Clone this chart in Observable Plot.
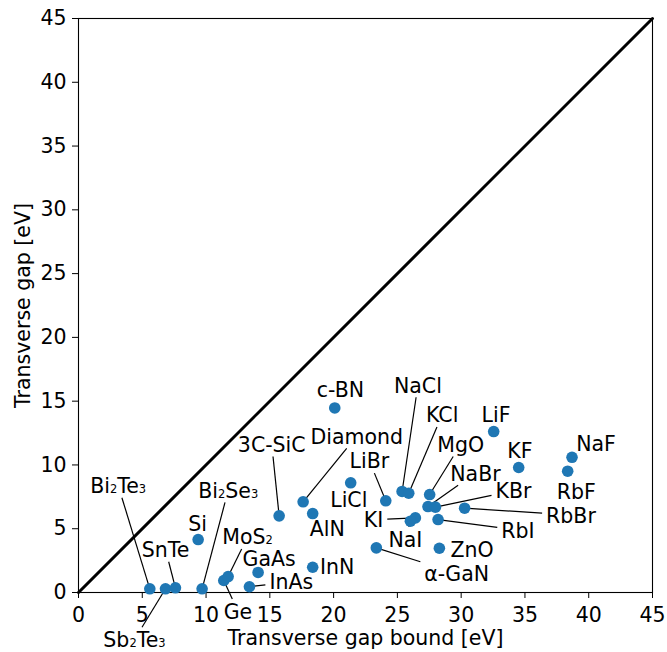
<!DOCTYPE html>
<html>
<head>
<meta charset="utf-8">
<script src="https://cdn.jsdelivr.net/npm/d3@7"></script>
<script src="https://cdn.jsdelivr.net/npm/@observablehq/plot@0.6"></script>
<style>
  html, body { margin: 0; padding: 0; background: #fff; }
  #chart svg { display: block; }
</style>
</head>
<body>
<div id="chart"></div>
<script>
// ---- data ----
const names = ["Bi₂Te₃","Sb₂Te₃","SnTe","Bi₂Se₃","Si","Ge","MoS₂","GaAs","InAs","3C-SiC",
  "Diamond","AlN","InN","c-BN","LiCl","LiBr","NaCl","KCl","MgO","NaBr",
  "KBr","RbBr","KI","NaI","RbI","ZnO","α-GaN","LiF","KF","NaF","RbF"];
const gapBound = [5.59,6.82,7.60,9.69,9.38,11.39,11.73,14.08,13.40,15.73,
  17.61,18.36,18.36,20.09,21.34,24.09,25.37,25.89,27.53,27.40,
  27.98,30.27,26.41,26.02,28.19,28.29,23.35,32.55,34.51,38.69,38.35];
const gap = [0.29,0.29,0.37,0.29,4.15,0.94,1.25,1.57,0.45,6.01,
  7.11,6.19,1.98,14.47,8.60,7.19,7.92,7.78,7.68,6.74,
  6.69,6.61,5.85,5.59,5.72,3.47,3.50,12.62,9.80,10.60,9.51];
// annotation text anchor (data units) and whether a leader line is drawn
const labelX = [3.11,4.39,6.82,11.74,9.34,12.50,13.26,14.95,16.68,15.15,
  21.81,19.50,20.28,20.54,21.19,22.80,26.61,28.51,29.97,31.12,
  34.10,38.61,23.13,25.63,34.45,30.86,29.65,32.73,34.61,40.57,39.02];
const labelY = [8.39,-3.68,3.37,8.02,5.41,-1.47,4.37,2.64,0.84,11.62,
  12.25,5.06,2.01,15.90,7.28,10.32,16.27,13.94,11.62,9.37,
  7.97,6.08,5.71,4.18,4.90,3.36,1.51,13.94,11.13,11.72,7.90];
const leader = [1,1,1,1,0,1,1,0,1,1,
  1,0,0,0,0,1,1,1,1,1,
  1,1,1,1,1,0,1,0,0,0,0];
const diagonal = [0, 45];
const xTicks = [0,5,10,15,20,25,30,35,40,45];
const yTicks = [0,5,10,15,20,25,30,35,40,45];
const xTitle = "Transverse gap bound [eV]";
const yTitle = "Transverse gap [eV]";

// ---- layout ----
const W = 667, H = 652;
const M = {top: 18, right: 15, bottom: 60, left: 78};
const FS = 20.5;
const SUB = 0.56;
const FONT = "DejaVu Sans";
const blue = "#1f77b4";

const xs = Plot.scale({x: {domain: [0, 45], range: [M.left, W - M.right]}});
const ys = Plot.scale({y: {domain: [0, 45], range: [H - M.bottom, M.top]}});

const ctx = document.createElement("canvas").getContext("2d");
function textWidth(s) {
  let w = 0;
  for (const part of s.match(/[₂₃]+|[^₂₃]+/g)) {
    const sub = /[₂₃]/.test(part);
    ctx.font = `${sub ? FS * SUB : FS}px "${FONT}"`;
    w += ctx.measureText(sub ? part.replace(/₂/g, "2").replace(/₃/g, "3") : part).width;
  }
  return w;
}

const pts = names.map((n, i) => ({name: n, x: gapBound[i], y: gap[i], lx: labelX[i], ly: labelY[i]}));

const links = [];
pts.forEach((p, i) => {
  if (!leader[i]) return;
  const cx = xs.apply(p.lx), cy = ys.apply(p.ly);
  const px = xs.apply(p.x), py = ys.apply(p.y);
  const w = textWidth(p.name);
  const hw = w / 2 + 4, hh = FS * 0.5 + 2;
  const dx = px - cx, dy = py - cy;
  const t = Math.min(dx ? hw / Math.abs(dx) : Infinity, dy ? hh / Math.abs(dy) : Infinity);
  if (t >= 1) return;
  links.push({x1: xs.invert(cx + t * dx), y1: ys.invert(cy + t * dy), x2: p.x, y2: p.y});
});

const chart = Plot.plot({
  width: W, height: H,
  marginTop: M.top, marginRight: M.right, marginBottom: M.bottom, marginLeft: M.left,
  style: {fontFamily: `"${FONT}", sans-serif`, fontSize: FS + "px", color: "black", background: "white", overflow: "visible"},
  x: {domain: [0, 45]},
  y: {domain: [0, 45]},
  marks: [
    Plot.frame({stroke: "black", strokeWidth: 1.1}),
    Plot.axisX({ticks: xTicks, tickSize: 6, tickPadding: 9, label: null, stroke: "black", fill: "black", fontSize: FS}),
    Plot.axisY({ticks: yTicks, tickSize: 6, tickPadding: 6, label: null, stroke: "black", fill: "black", fontSize: FS}),
    Plot.text([xTitle], {frameAnchor: "bottom", lineAnchor: "middle", dy: 46, fill: "black", fontSize: FS}),
    Plot.text([yTitle], {frameAnchor: "left", textAnchor: "middle", lineAnchor: "middle", dx: -55, rotate: -90, fill: "black", fontSize: FS}),
    Plot.line(diagonal, {x: d => d, y: d => d, stroke: "black", strokeWidth: 3}),
    Plot.link(links, {x1: "x1", y1: "y1", x2: "x2", y2: "y2", stroke: "black", strokeWidth: 1.2}),
    Plot.dot(pts, {x: "x", y: "y", r: 5.8, fill: blue, stroke: "none"}),
    Plot.text(pts, {x: "lx", y: "ly", text: "name", fill: "black", fontSize: FS, dy: 1, clip: false})
  ]
});

// render subscripts as smaller digits sitting on the baseline
const SVGNS = "http://www.w3.org/2000/svg";
chart.querySelectorAll("text").forEach(t => {
  const s = t.textContent;
  if (!/[₂₃]/.test(s)) return;
  t.textContent = "";
  for (const part of s.match(/[₂₃]+|[^₂₃]+/g)) {
    const ts = document.createElementNS(SVGNS, "tspan");
    if (/[₂₃]/.test(part)) {
      ts.setAttribute("font-size", (FS * SUB) + "px");
      ts.textContent = part.replace(/₂/g, "2").replace(/₃/g, "3");
    } else ts.textContent = part;
    t.appendChild(ts);
  }
});
document.getElementById("chart").appendChild(chart);
</script>
</body>
</html>
